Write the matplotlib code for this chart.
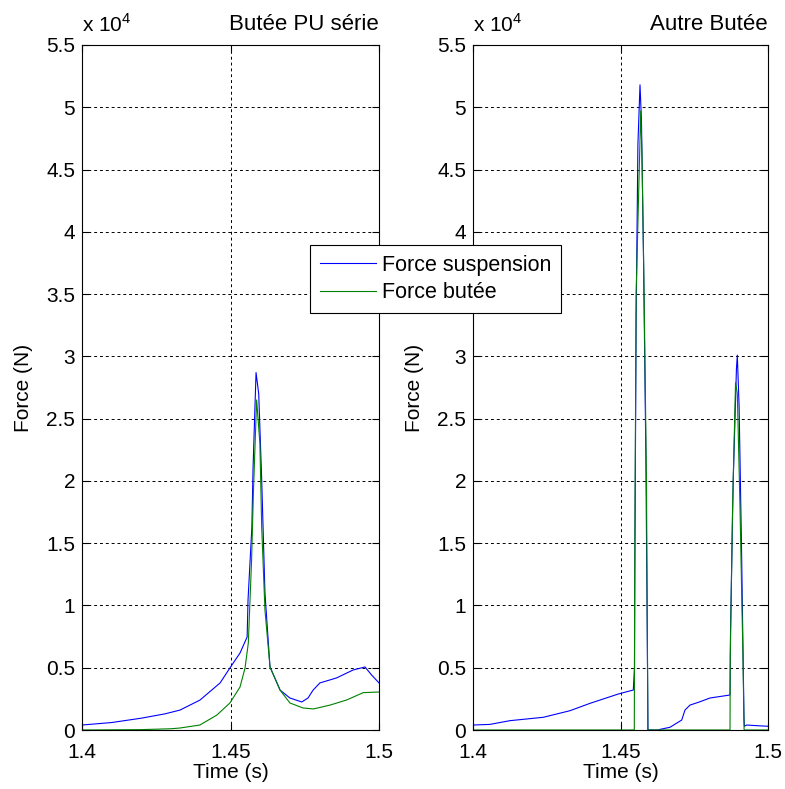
import numpy as np
import matplotlib.pyplot as plt

plt.rcParams['font.family'] = ['Liberation Sans', 'DejaVu Sans']
plt.rcParams['mathtext.fontset'] = 'custom'
plt.rcParams['mathtext.rm'] = 'Liberation Sans'

# Left panel: "Butée PU série"
t_left_susp = [1.400, 1.410, 1.420, 1.428, 1.433, 1.4397, 1.4465, 1.4498, 1.4532, 1.4556,
               1.4559, 1.4572, 1.4576, 1.4586, 1.4595, 1.4605, 1.4616, 1.4633, 1.4667, 1.4700,
               1.4740, 1.4761, 1.4778, 1.4801, 1.4857, 1.4913, 1.4953, 1.4975, 1.5000]
f_left_susp = [400, 600, 950, 1300, 1600, 2400, 3780, 4980, 6180, 7470,
               10440, 16300, 21100, 28700, 27000, 20100, 11000, 5060, 3200, 2570,
               2250, 2570, 3200, 3780, 4180, 4820, 5060, 4420, 3780]
t_left_but = [1.400, 1.420, 1.430, 1.433, 1.4397, 1.4454, 1.4498, 1.4532, 1.4549, 1.4560,
              1.4571, 1.4577, 1.4588, 1.4599, 1.4605, 1.4616, 1.4633, 1.4667, 1.4700, 1.4744,
              1.4779, 1.4835, 1.4891, 1.4947, 1.5000]
f_left_but = [0, 30, 100, 160, 400, 1200, 2170, 3450, 4980, 6990,
              13650, 19000, 26500, 23000, 16300, 9640, 5060, 3200, 2170, 1770,
              1690, 2000, 2410, 3000, 3050]

# Right panel: "Autre Butée"
t_right_susp = [1.4000, 1.40576, 1.41254, 1.42383, 1.43288, 1.43966, 1.44925, 1.45434,
                1.45475, 1.4549, 1.4553, 1.4559, 1.45661, 1.4571, 1.4578, 1.4586, 1.45922, 1.45932,
                1.4633, 1.46339, 1.46678, 1.47075, 1.47186, 1.47356, 1.47695, 1.48034, 1.48712,
                1.4873, 1.4882, 1.4893, 1.4896, 1.4902, 1.4910, 1.49186, 1.4920, 1.49278, 1.4960, 1.5000]
f_right_susp = [400, 450, 750, 1020, 1550, 2140, 2890, 3210,
                5000, 15000, 33000, 47000, 51800, 49000, 38000, 22000, 3000, 0,
                0, 50, 220, 800, 1600, 2000, 2270, 2570, 2810,
                8000, 20000, 29000, 30100, 26000, 15000, 1000, 300, 400, 350, 300]
t_right_but = [1.4000, 1.45468, 1.4548, 1.4553, 1.45685, 1.4573, 1.4580, 1.4588, 1.45922, 1.45925,
               1.48712, 1.48722, 1.4880, 1.4890, 1.4896, 1.4905, 1.4915, 1.49186, 1.4919, 1.5000]
f_right_but = [0, 0, 12000, 35000, 49700, 46000, 35000, 20000, 3000, 0,
               0, 6000, 18000, 27900, 27000, 18000, 6000, 500, 0, 0]

fig = plt.figure(figsize=(7.85, 7.89), dpi=100)
ax1 = fig.add_axes([82/785, 59/789, 297/785, 685/789])
ax2 = fig.add_axes([473/785, 59/789, 295/785, 685/789])

panels = [
    (ax1, t_left_susp, f_left_susp, t_left_but, f_left_but, 'Butée PU série'),
    (ax2, t_right_susp, f_right_susp, t_right_but, f_right_but, 'Autre Butée'),
]

for ax, ts, fs, tb, fb, title in panels:
    ax.plot(ts, np.array(fs) / 1e4, color='#0000ff', lw=0.8, label='Force suspension')
    ax.plot(tb, np.array(fb) / 1e4, color='#008000', lw=0.8, label='Force butée')
    ax.set_xlim(1.4, 1.5)
    ax.set_ylim(0, 5.5)
    ax.set_xticks([1.4, 1.45, 1.5])
    ax.set_xticklabels(['1.4', '1.45', '1.5'])
    ax.set_yticks(np.arange(0, 5.51, 0.5))
    ax.set_yticklabels(['0', '0.5', '1', '1.5', '2', '2.5', '3', '3.5', '4', '4.5', '5', '5.5'])
    ax.tick_params(direction='in', length=5, top=True, right=True, labelsize=15)
    ax.tick_params(axis='x', pad=9)
    ax.tick_params(axis='y', pad=5)
    ax.grid(True, color='black', lw=0.7, linestyle=(0, (3, 3)))
    for sp in ax.spines.values():
        sp.set_linewidth(0.8)
    ax.set_xlabel('Time (s)', fontsize=15, labelpad=1)
    ax.set_ylabel('Force (N)', fontsize=15, labelpad=9)
    ax.text(0, 1.014, r'x 10$^4$', transform=ax.transAxes, fontsize=15, ha='left', va='bottom')
    ax.text(1.0, 1.014, title, transform=ax.transAxes, fontsize=16, ha='right', va='bottom')

handles, labels = ax1.get_legend_handles_labels()
leg = fig.legend(handles, labels, loc='upper left', bbox_to_anchor=(310/785, 1 - 245/789),
                 fontsize=15.5, frameon=True, fancybox=False, framealpha=1, handlelength=2.6,
                 borderpad=0.45, labelspacing=0.3, handletextpad=0.3, borderaxespad=0)
leg.get_frame().set_edgecolor('black')
leg.get_frame().set_linewidth(0.8)
leg.set_zorder(10)

fig.savefig('out.png', dpi=100)
